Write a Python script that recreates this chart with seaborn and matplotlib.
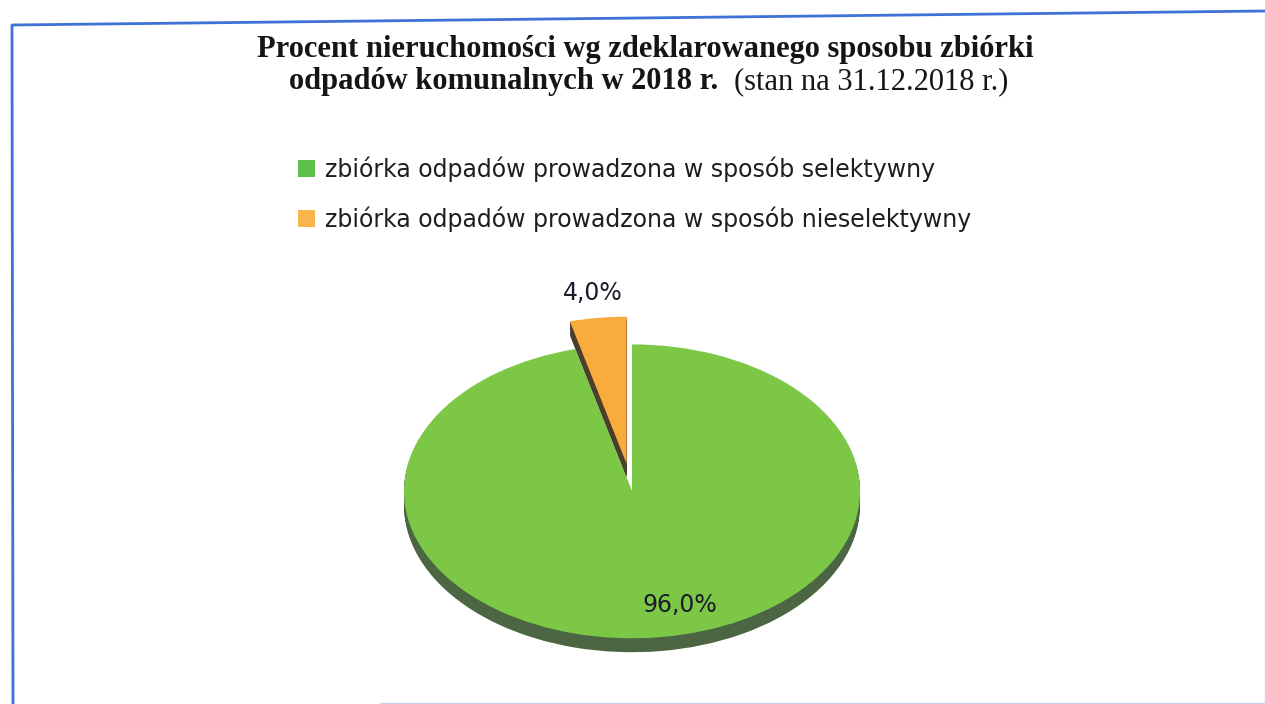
import numpy as np
import matplotlib
matplotlib.use("Agg")
import matplotlib.pyplot as plt
from matplotlib.patches import Patch
from matplotlib.lines import Line2D
import seaborn as sns

# dane
kategorie = ["zbiórka odpadów prowadzona w sposób selektywny",
             "zbiórka odpadów prowadzona w sposób nieselektywny"]
procenty = [96.0, 4.0]
kolory = ["#7cc846", "#f9ab3c"]
kolory_boku = ["#4c6644", "#4a3e2c"]
kolory_legendy = ["#5dbf4c", "#f7b54c"]
wysuniecie = [0.0, 0.19]

sns.set_theme(style="white")
plt.rcParams["font.family"] = ["DejaVu Sans"]

fig = plt.figure(figsize=(12.65, 7.04), dpi=100)
fig.patch.set_facecolor("white")

# ramka (lekko przekrzywiona jak na skanie)
W, H = 1265, 704
ramka = [(13, 704), (12, 25), (1265, 11)]
fig.add_artist(Line2D([p[0] / W for p in ramka], [1 - p[1] / H for p in ramka],
                      transform=fig.transFigure, color="#3f72d6", lw=2.0))
fig.add_artist(Line2D([380 / W, 1, 1], [1.5 / H, 1.5 / H, 1 - 12 / H],
                      transform=fig.transFigure, color="#c9d6f0", lw=1.0))

# tytuł
fig.text(0.51, 1 - 50 / H, "Procent nieruchomości wg zdeklarowanego sposobu zbiórki",
         ha="center", va="center", family="Liberation Serif", weight="bold",
         fontsize=22, color="#151515")
fig.text(718 / W, 1 - 82 / H, "odpadów komunalnych w 2018 r.",
         ha="right", va="center", family="Liberation Serif", weight="bold",
         fontsize=22, color="#151515")
fig.text(734 / W, 1 - 82 / H, "(stan na 31.12.2018 r.)",
         ha="left", va="center", family="Liberation Serif",
         fontsize=22, color="#151515")

# legenda
uchwyty = [Patch(facecolor=k, edgecolor="none") for k in kolory_legendy]
fig.legend(uchwyty, kategorie, loc="upper left", bbox_to_anchor=(298 / W, 1 - 156 / H),
           frameon=False, handlelength=0.7, handleheight=0.7, handletextpad=0.45,
           labelspacing=1.05, borderpad=0, borderaxespad=0,
           prop={"family": "DejaVu Sans", "size": 17}, labelcolor="#1e1e1e")

# wykres kołowy (spłaszczony, z bokiem 3D)
ax = fig.add_axes([347 / W, 29 / H, 570 / W, 382 / H])
glebokosc = np.linspace(0.095, 0.005, 12)
for d in glebokosc:
    ax.pie(procenty, colors=kolory_boku, startangle=90, counterclock=False,
           explode=wysuniecie, center=(0, -d), wedgeprops={"linewidth": 0})

wedges, teksty, autoteksty = ax.pie(
    procenty, colors=kolory, startangle=90, counterclock=False,
    explode=wysuniecie, wedgeprops={"linewidth": 0},
    autopct=lambda p: f"{p:.1f}%".replace(".", ","), pctdistance=0.78,
    textprops={"fontsize": 17, "color": "#1b1b2b"})

# etykiety: duży wycinek nieco w prawo od środka łuku, mały nad wycinkiem
w0 = wedges[0]
kat0 = np.deg2rad((w0.theta1 + w0.theta2) / 2 + 8)
autoteksty[0].set_position((0.8 * np.cos(kat0), 0.8 * np.sin(kat0)))
w1 = wedges[1]
kat1 = np.deg2rad((w1.theta1 + w1.theta2) / 2)
autoteksty[1].set_position((1.36 * np.cos(kat1), 1.36 * np.sin(kat1)))

ax.set_aspect("auto")
ax.set_xlim(-1.25, 1.25)
ax.set_ylim(-1.25, 1.35)
ax.axis("off")

fig.savefig("out.png", dpi=100, facecolor="white")
